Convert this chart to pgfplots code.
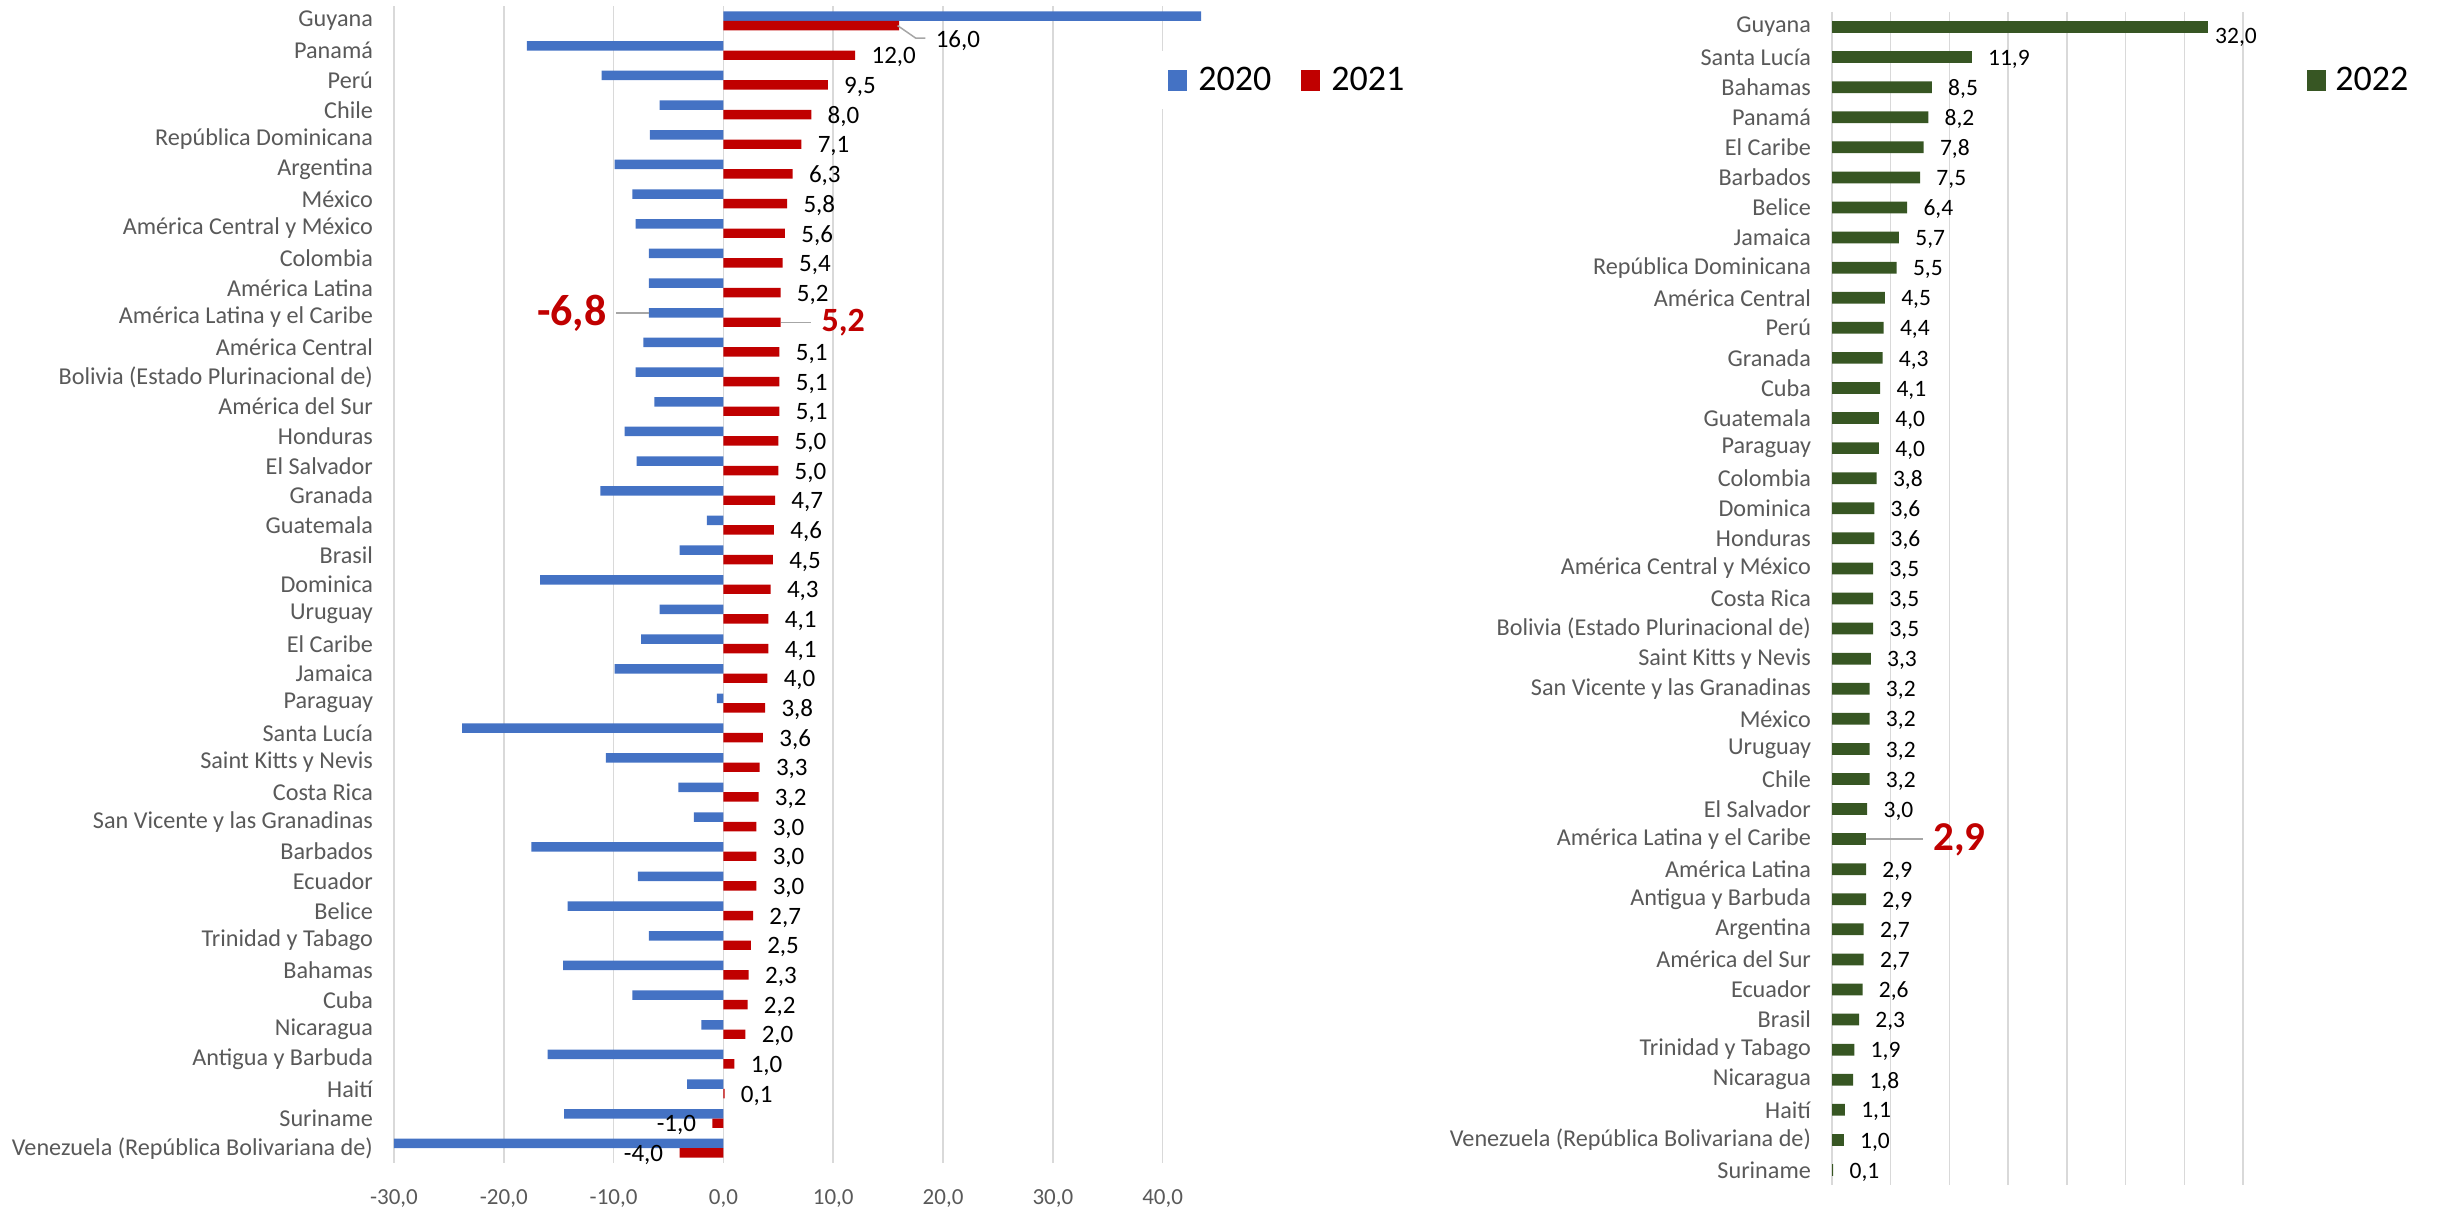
\documentclass[border=0pt]{standalone}
\usepackage{fontspec}
\setmainfont{Carlito}
\usepackage{pgfplots}
\pgfplotsset{compat=1.18}
\pgfkeys{/pgf/number format/assume math mode=true}

\definecolor{b20}{HTML}{4472C4}
\definecolor{r21}{HTML}{C00000}
\definecolor{g22}{HTML}{375623}
\definecolor{gridc}{HTML}{D9D9D9}
\definecolor{txtc}{HTML}{595959}
\definecolor{leadc}{HTML}{A6A6A6}

\newcommand{\fs}[1]{\fontsize{#1}{#1}\selectfont}

\pgfplotsset{
  cepal/.style={
    xbar, scale only axis, anchor=south west, clip=false,
    y dir=reverse, ymin=-0.5, ymax=38.5, ytick={0,...,38},
    axis line style={draw=none}, major tick length=0pt,
    xmajorgrids, grid style={gridc, line width=0.75pt},
    yticklabel style={font=\fs{12.1}, text=txtc, xshift=-7pt},
    point meta=x,
    legend image code/.code={\fill[##1] (0pt,-5.25pt) rectangle (9.5pt,5.25pt);},
  },
  lbl/.style={nodes near coords={\pgfmathprintnumber[fixed,fixed zerofill,precision=1,use comma]{\pgfplotspointmeta}}},
}

\begin{document}
\begin{tikzpicture}
\useasboundingbox (0,0) rectangle (1219pt,604.5pt);

% 2020 y 2021
\begin{axis}[cepal, at={(197pt,23pt)}, width=411.8pt, height=578.5pt,
  xmin=-30, xmax=45, xtick={-30,-20,...,40},
  xticklabel style={/pgf/number format/fixed, /pgf/number format/fixed zerofill,
    /pgf/number format/precision=1, /pgf/number format/use comma,
    font=\fs{11.5}, text=txtc, yshift=-10pt},
  bar width=0.32,
  yticklabels={Guyana, Panamá, Perú, Chile, República Dominicana, Argentina, México,
    América Central y México, Colombia, América Latina, América Latina y el Caribe,
    América Central, Bolivia (Estado Plurinacional de), América del Sur, Honduras,
    El Salvador, Granada, Guatemala, Brasil, Dominica, Uruguay, El Caribe, Jamaica,
    Paraguay, Santa Lucía, Saint Kitts y Nevis, Costa Rica, San Vicente y las Granadinas,
    Barbados, Ecuador, Belice, Trinidad y Tabago, Bahamas, Cuba, Nicaragua,
    Antigua y Barbuda, Haití, Suriname, Venezuela (República Bolivariana de)},
  legend style={at={(axis description cs:0.9203,0.936)}, anchor=west, draw=none, fill=white,
    inner xsep=8pt, inner ysep=8pt, font=\fs{18}, legend columns=2, nodes={inner sep=0pt},
    /tikz/every odd column/.append style={column sep=5.5pt},
    /tikz/every even column/.append style={column sep=15pt}},
]
\addplot[fill=b20, draw=none, bar shift=-0.16] coordinates {
  (43.5,0) (-17.9,1) (-11.1,2) (-5.8,3) (-6.7,4) (-9.9,5) (-8.3,6) (-8.0,7) (-6.8,8)
  (-6.8,9) (-6.8,10) (-7.3,11) (-8.0,12) (-6.3,13) (-9.0,14) (-7.9,15) (-11.2,16)
  (-1.5,17) (-4.0,18) (-16.7,19) (-5.8,20) (-7.5,21) (-9.9,22) (-0.6,23) (-23.8,24)
  (-10.7,25) (-4.1,26) (-2.7,27) (-17.5,28) (-7.8,29) (-14.2,30) (-6.8,31) (-14.6,32)
  (-8.3,33) (-2.0,34) (-16.0,35) (-3.3,36) (-14.5,37) (-30.0,38)};
\addplot[fill=r21, draw=none, bar shift=0.16, lbl,
  every node near coord/.append style={font=\fs{12.5}, text=black, inner xsep=8pt, yshift=-1pt}]
  coordinates {
  (12.0,1) (9.5,2) (8.0,3) (7.1,4) (6.3,5) (5.8,6) (5.6,7) (5.4,8)
  (5.2,9) (5.1,11) (5.1,12) (5.1,13) (5.0,14) (5.0,15) (4.7,16)
  (4.6,17) (4.5,18) (4.3,19) (4.1,20) (4.1,21) (4.0,22) (3.8,23) (3.6,24)
  (3.3,25) (3.2,26) (3.0,27) (3.0,28) (3.0,29) (2.7,30) (2.5,31) (2.3,32)
  (2.2,33) (2.0,34) (1.0,35) (0.1,36) (-1.0,37) (-4.0,38)};
\addplot[fill=r21, draw=none, bar shift=0.16, forget plot] coordinates {(16.0,0) (5.2,10)};
\legend{2020,2021}
% rotulos destacados
\draw[leadc, line width=0.75pt] (axis cs:15.86,0.16) -- (axis cs:17.5,0.58) -- (axis cs:18.4,0.58);
\node[anchor=west, inner sep=0pt, font=\fs{12.5}] at (axis cs:19.3,0.68) {16,0};
\draw[leadc, line width=0.75pt] (axis cs:5.2,10.16) -- (axis cs:8.0,10.16);
\node[anchor=west, inner sep=0pt, font=\bfseries\fs{17}, text=r21] at (axis cs:8.9,10.18) {5,2};
\draw[leadc, line width=0.75pt] (axis cs:-6.8,9.84) -- (axis cs:-9.75,9.84);
\node[anchor=east, inner sep=0pt, font=\bfseries\fs{22}, text=r21] at (axis cs:-10.6,9.86) {-6,8};
\end{axis}

% 2022
\begin{axis}[cepal, at={(916pt,12pt)}, width=205.5pt, height=586.5pt,
  xmin=0, xmax=35, xtick={0,5,...,35}, xticklabels={},
  bar width=0.39,
  yticklabels={Guyana, Santa Lucía, Bahamas, Panamá, El Caribe, Barbados, Belice, Jamaica,
    República Dominicana, América Central, Perú, Granada, Cuba, Guatemala, Paraguay,
    Colombia, Dominica, Honduras, América Central y México, Costa Rica,
    Bolivia (Estado Plurinacional de), Saint Kitts y Nevis, San Vicente y las Granadinas,
    México, Uruguay, Chile, El Salvador, América Latina y el Caribe, América Latina,
    Antigua y Barbuda, Argentina, América del Sur, Ecuador, Brasil, Trinidad y Tabago,
    Nicaragua, Haití, Venezuela (República Bolivariana de), Suriname},
  legend style={at={(axis description cs:1.1557,0.9418)}, anchor=west, draw=none, fill=none,
    inner sep=0pt, font=\fs{18}, nodes={inner sep=0pt},
    /tikz/every odd column/.append style={column sep=4.5pt}},
]
\addplot[fill=g22, draw=none, bar shift=0, lbl,
  every node near coord/.append style={font=\fs{11.75}, text=black, inner xsep=8pt, yshift=-1pt}]
  coordinates {
  (11.9,1) (8.5,2) (8.2,3) (7.8,4) (7.5,5) (6.4,6) (5.7,7) (5.5,8) (4.5,9) (4.4,10)
  (4.3,11) (4.1,12) (4.0,13) (4.0,14) (3.8,15) (3.6,16) (3.6,17) (3.5,18) (3.5,19)
  (3.5,20) (3.3,21) (3.2,22) (3.2,23) (3.2,24) (3.2,25) (3.0,26) (2.9,28)
  (2.9,29) (2.7,30) (2.7,31) (2.6,32) (2.3,33) (1.9,34) (1.8,35) (1.1,36) (1.0,37) (0.1,38)};
\addplot[fill=g22, draw=none, bar shift=0, lbl, forget plot,
  every node near coord/.append style={font=\fs{11.75}, text=black, inner xsep=3.5pt, yshift=-5pt}]
  coordinates {(32.0,0)};
\addplot[fill=g22, draw=none, bar shift=0, forget plot] coordinates {(2.9,27)};
\legend{2022}
\draw[leadc, line width=0.75pt] (axis cs:2.9,27) -- (axis cs:7.75,27);
\node[anchor=west, inner sep=0pt, font=\bfseries\fs{20.5}, text=r21] at (axis cs:8.6,27.02) {2,9};
\end{axis}
\end{tikzpicture}
\end{document}
